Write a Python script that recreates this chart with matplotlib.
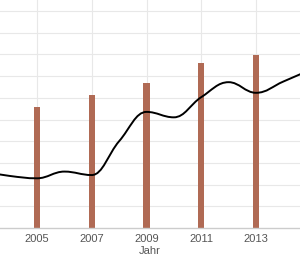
import numpy as np
import matplotlib
matplotlib.use("Agg")
import matplotlib.pyplot as plt
from matplotlib.path import Path
from matplotlib.patches import PathPatch

# ---- data ----
bar_years = [2005, 2007, 2009, 2011, 2013]
bar_values = [5.58, 6.14, 6.68, 7.59, 7.97]

line_years = [2003, 2004, 2005, 2006, 2007, 2008, 2009, 2010, 2011, 2012, 2013, 2014, 2015]
line_values = [2.60, 2.40, 2.29, 2.60, 2.44, 4.00, 5.35, 5.10, 6.03, 6.72, 6.23, 6.75, 7.30]

tick_years = [2005, 2007, 2009, 2011, 2013, 2015]
tick_labels = [str(y) for y in tick_years]
x_title = "Jahr"

# ---- figure ----
W, H = 300, 258
fig = plt.figure(figsize=(W / 100, H / 100), dpi=100)
bottom = (H - 228) / H
ax = fig.add_axes([0, bottom, 1, 1 - bottom])

for s in ["top", "right", "left"]:
    ax.spines[s].set_visible(False)
ax.spines["bottom"].set_color("#cccccc")
ax.spines["bottom"].set_linewidth(1)

ax.set_yticks(np.arange(1, 11))
ax.set_yticklabels([])
ax.tick_params(axis="y", length=0)
ax.set_xticks(tick_years)
ax.set_xticklabels(tick_labels, fontfamily="Liberation Sans", fontsize=8, color="#555555")
ax.tick_params(axis="x", length=0, pad=4)
ax.grid(True, color="#e8e8e8", linewidth=0.8)
ax.set_axisbelow(True)
ax.set_xlabel(x_title, fontfamily="Liberation Sans", fontsize=8, color="#555555", labelpad=2)

ax.bar(bar_years, bar_values, width=0.22, color="#b06a54", zorder=2)

# spline (Highcharts-like bezier through the points)
xs = np.array(line_years, dtype=float)
ys = np.array(line_values, dtype=float)
sm, den = 1.5, 2.5
verts = [(xs[0], ys[0])]
codes = [Path.MOVETO]
ctrl = []
n = len(xs)
for i in range(n):
    if i == 0 or i == n - 1:
        ctrl.append(((xs[i], ys[i]), (xs[i], ys[i])))
        continue
    lx = (sm * xs[i] + xs[i - 1]) / den
    ly = (sm * ys[i] + ys[i - 1]) / den
    rx = (sm * xs[i] + xs[i + 1]) / den
    ry = (sm * ys[i] + ys[i + 1]) / den
    corr = ((ry - ly) * (rx - xs[i])) / (rx - lx) + ys[i] - ry
    ly += corr
    ry += corr
    if ly > ys[i - 1] and ly > ys[i]:
        ly = max(ys[i - 1], ys[i]); ry = 2 * ys[i] - ly
    elif ly < ys[i - 1] and ly < ys[i]:
        ly = min(ys[i - 1], ys[i]); ry = 2 * ys[i] - ly
    if ry > ys[i + 1] and ry > ys[i]:
        ry = max(ys[i + 1], ys[i]); ly = 2 * ys[i] - ry
    elif ry < ys[i + 1] and ry < ys[i]:
        ry = min(ys[i + 1], ys[i]); ly = 2 * ys[i] - ry
    ctrl.append(((lx, ly), (rx, ry)))
for i in range(1, n):
    verts += [ctrl[i - 1][1], ctrl[i][0], (xs[i], ys[i])]
    codes += [Path.CURVE4] * 3
ax.add_patch(PathPatch(Path(verts, codes), fill=False, edgecolor="black", linewidth=1.4, zorder=3))

ax.set_xlim(2005 - 37 / 27.375, 2005 + 263 / 27.375)
ax.set_ylim(0, 228 / 21.7)

fig.savefig("out.png", dpi=100)
